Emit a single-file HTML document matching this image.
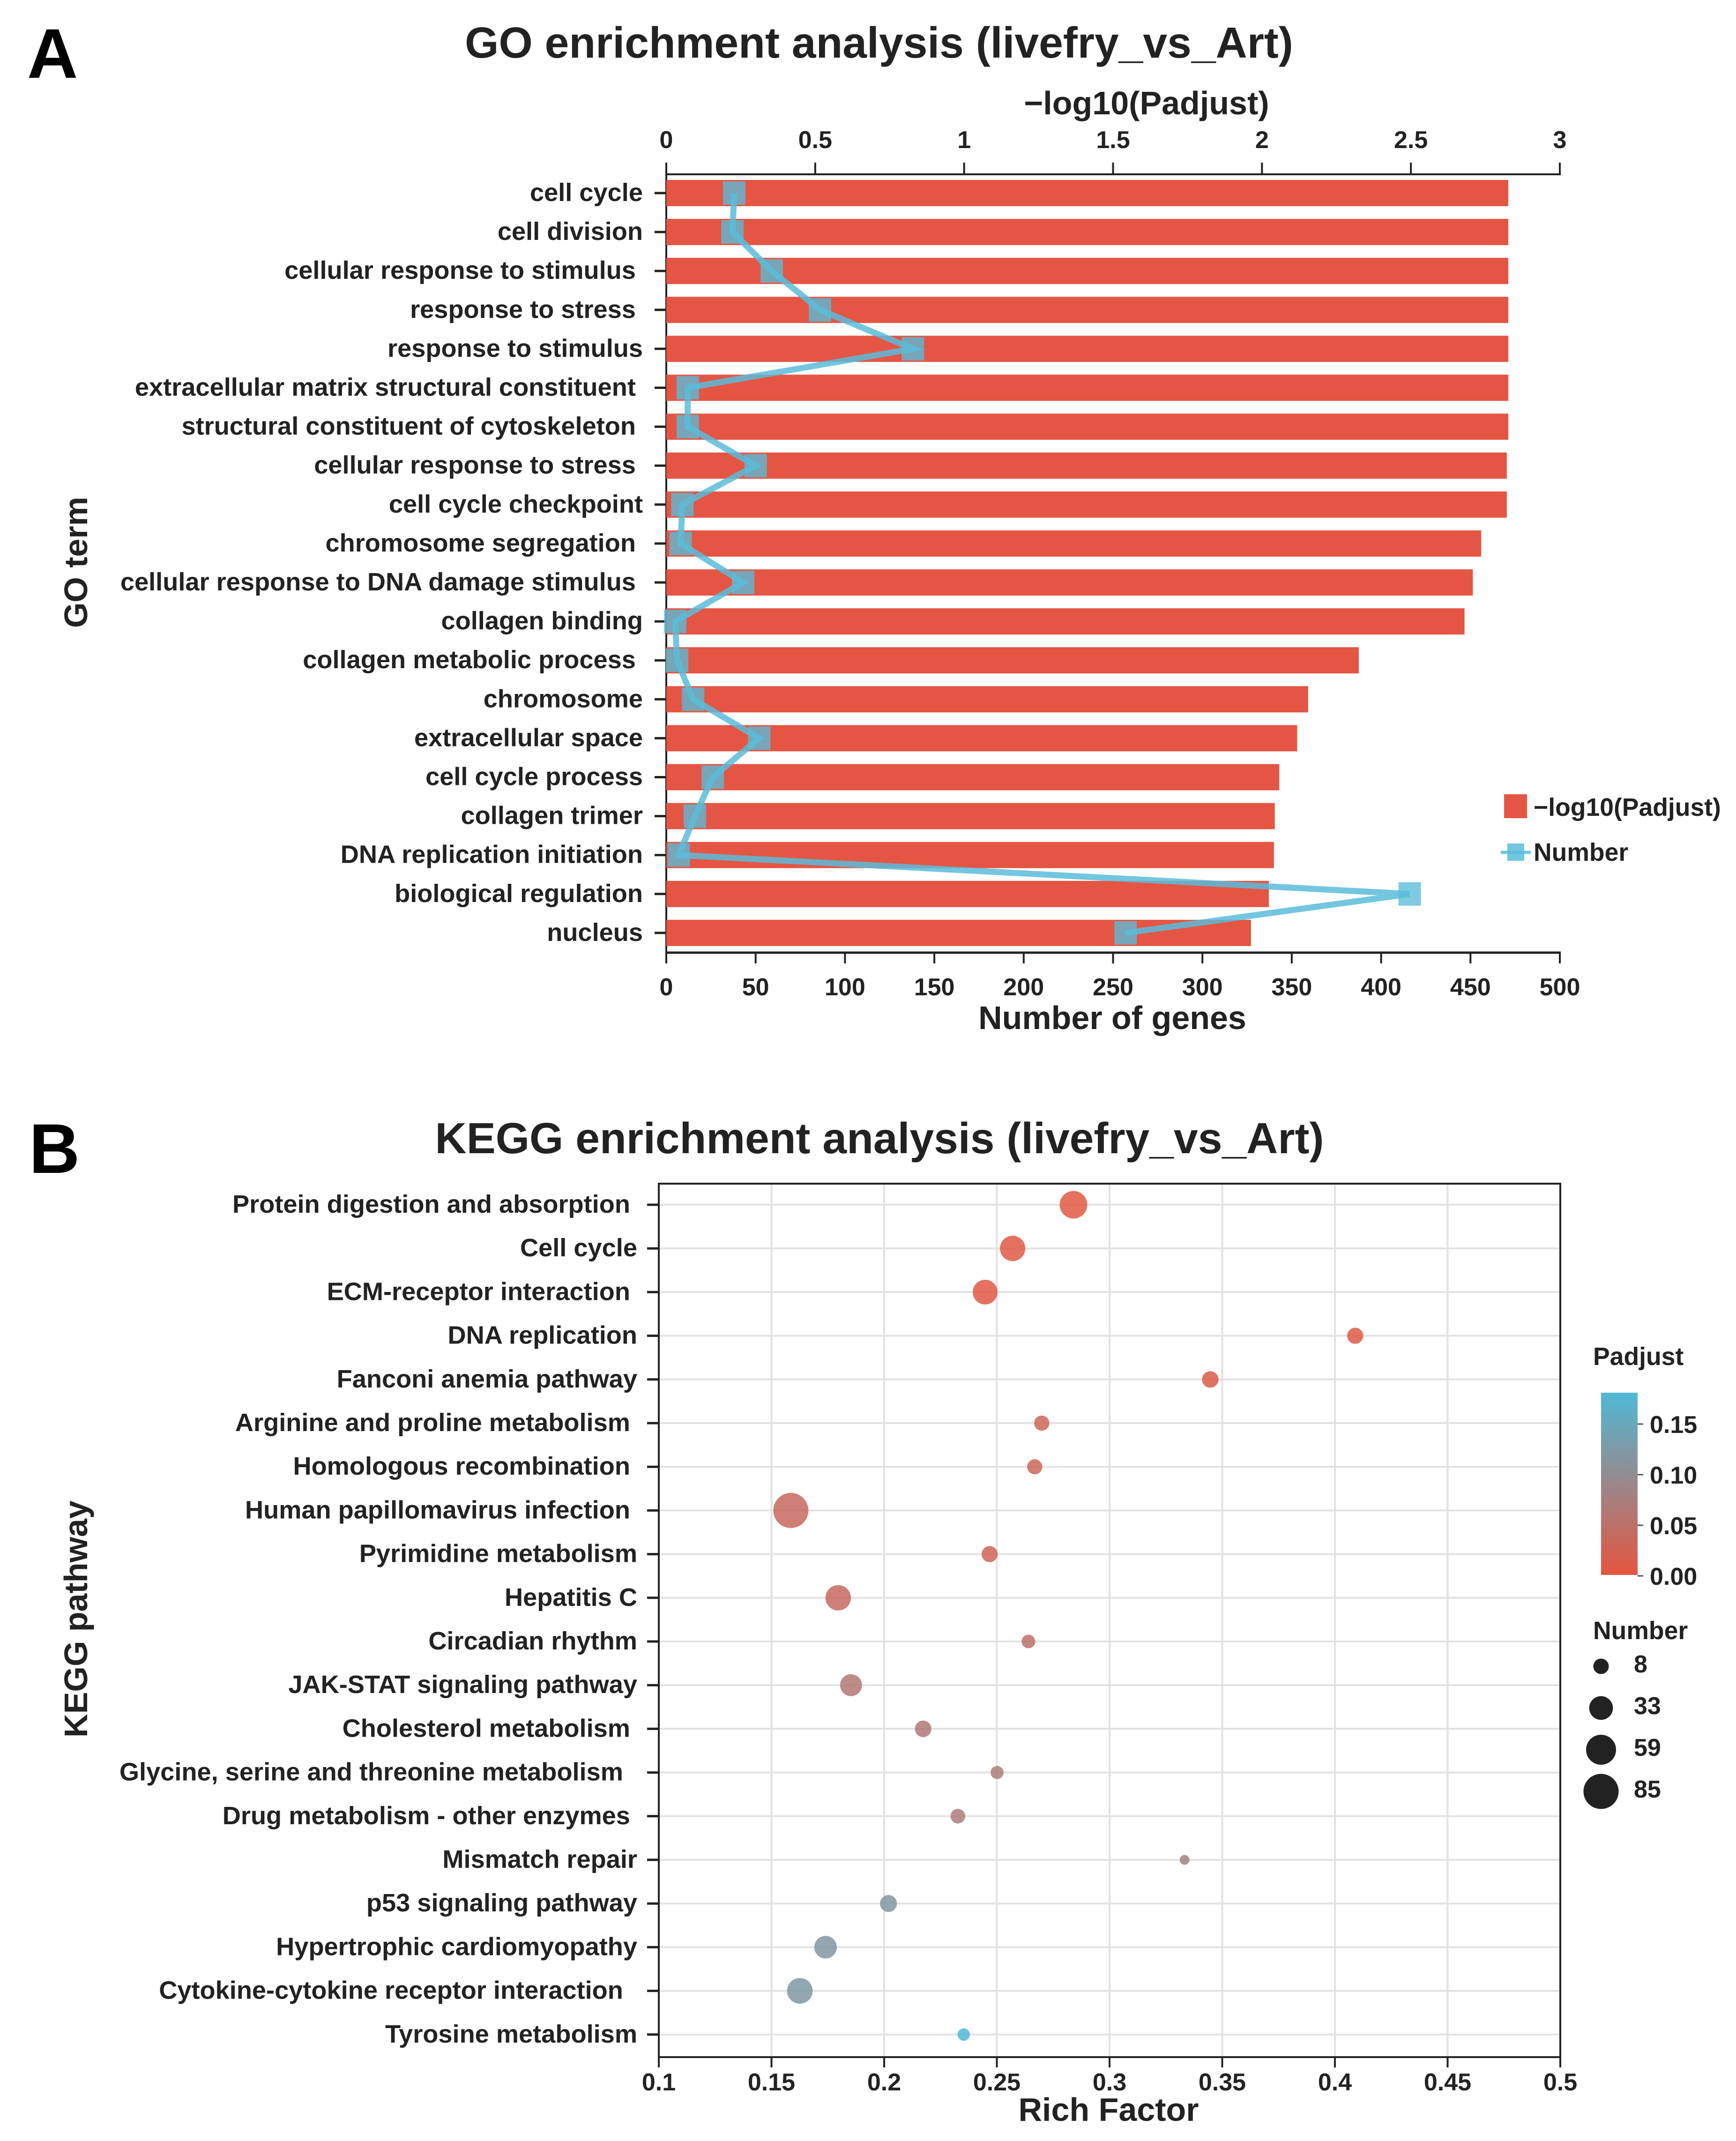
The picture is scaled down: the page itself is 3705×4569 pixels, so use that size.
<!DOCTYPE html>
<html lang="en">
<head>
<meta charset="utf-8">
<title>GO and KEGG enrichment analysis (livefry_vs_Art)</title>
<style>
html,body{margin:0;padding:0;background:#fff;}
svg{display:block;}
text{font-family:"Liberation Sans",sans-serif;font-weight:700;fill:#222;}
.tick{font-size:52px;}
.cat{font-size:54.2px;}
.axis-title{font-size:70px;}
.main-title{font-size:93px;}
.panel{font-size:150px;fill:#000;}
.legend{font-size:53.5px;}
</style>
</head>
<body>
<svg id="figure" xmlns="http://www.w3.org/2000/svg" width="3705" height="4569" viewBox="0 0 3705 4569">
  <defs>
    <linearGradient id="padjust-gradient" x1="0" y1="1" x2="0" y2="0">
      <stop offset="0" stop-color="#e5553f"/>
      <stop offset="1" stop-color="#4fb9d6"/>
    </linearGradient>
  </defs>
  <rect x="0" y="0" width="3705" height="4569" fill="#fff"/>

  <text class="panel" x="58" y="166">A</text>
  <text class="main-title" x="1876" y="123" text-anchor="middle">GO enrichment analysis (livefry_vs_Art)</text>
  <text class="axis-title" x="2447" y="244" text-anchor="middle">−log10(Padjust)</text>
  <text class="axis-title" x="2374" y="2196" text-anchor="middle">Number of genes</text>
  <text class="axis-title" transform="translate(186 1200) rotate(-90)" text-anchor="middle">GO term</text>

  <g id="go-grid-back"></g>
  <g id="go-bars"></g>
  <g id="go-number"></g>

  <rect x="3210" y="1695" width="49" height="51" fill="#e55543"/>
  <text class="legend" x="3273" y="1741">−log10(Padjust)</text>
  <line x1="3203" y1="1819" x2="3267" y2="1819" stroke="#5abcd9" stroke-width="7" stroke-opacity="0.85"/>
  <rect x="3217" y="1800" width="36" height="37" fill="#5abcd9" opacity="0.85"/>
  <text class="legend" x="3273" y="1837">Number</text>

  <text class="panel" x="62" y="2503">B</text>
  <text class="main-title" x="1877" y="2461" text-anchor="middle">KEGG enrichment analysis (livefry_vs_Art)</text>
  <text class="axis-title" x="2366" y="4526" text-anchor="middle">Rich Factor</text>
  <text class="axis-title" transform="translate(186 3455) rotate(-90)" text-anchor="middle">KEGG pathway</text>

  <g id="kegg-grid"></g>
  <g id="kegg-dots"></g>
  <g id="kegg-axes"></g>

  <text class="legend" x="3400" y="2913">Padjust</text>
  <rect x="3417" y="2972" width="78" height="389" fill="url(#padjust-gradient)"/>
  <g id="color-legend"></g>
  <text class="legend" x="3400" y="3498">Number</text>
  <g id="size-legend"></g>
</svg>

<script>
/* ---------- GO chart data ---------- */
const goCategories = [
  "cell cycle", "cell division", "cellular response to stimulus\u00a0", "response to stress\u00a0",
  "response to stimulus", "extracellular matrix structural constituent\u00a0", "structural constituent of cytoskeleton\u00a0",
  "cellular response to stress\u00a0", "cell cycle checkpoint", "chromosome segregation\u00a0",
  "cellular response to DNA damage stimulus\u00a0", "collagen binding", "collagen metabolic process\u00a0",
  "chromosome", "extracellular space", "cell cycle process", "collagen trimer",
  "DNA replication initiation", "biological regulation", "nucleus"
];
const goLogPadjust = [2.827, 2.827, 2.827, 2.827, 2.827, 2.827, 2.827, 2.822, 2.822, 2.736,
                      2.708, 2.68, 2.325, 2.155, 2.118, 2.058, 2.043, 2.04, 2.023, 1.963];
const goNumberOfGenes = [38, 37, 59, 86, 138, 12, 12, 50, 9, 8, 43, 5, 6, 15, 52, 26, 16, 7, 416, 257];
const goTopTicks = ["0", "0.5", "1", "1.5", "2", "2.5", "3"];
const goBottomTicks = ["0", "50", "100", "150", "200", "250", "300", "350", "400", "450", "500"];

/* ---------- KEGG chart data ---------- */
const keggCategories = [
  "Protein digestion and absorption\u00a0", "Cell cycle", "ECM-receptor interaction\u00a0", "DNA replication",
  "Fanconi anemia pathway", "Arginine and proline metabolism\u00a0", "Homologous recombination\u00a0",
  "Human papillomavirus infection\u00a0", "Pyrimidine metabolism", "Hepatitis C", "Circadian rhythm",
  "JAK-STAT signaling pathway", "Cholesterol metabolism\u00a0", "Glycine, serine and threonine metabolism\u00a0\u00a0",
  "Drug metabolism - other enzymes\u00a0", "Mismatch repair", "p53 signaling pathway",
  "Hypertrophic cardiomyopathy", "Cytokine-cytokine receptor interaction\u00a0\u00a0", "Tyrosine metabolism"
];
const keggRichFactor = [0.284, 0.257, 0.2448, 0.409, 0.3447, 0.2699, 0.2668, 0.1586, 0.2468, 0.1796,
                        0.264, 0.1853, 0.2173, 0.2501, 0.2327, 0.3333, 0.2019, 0.174, 0.1626, 0.2353];
const keggNumber = [53, 45, 43, 19, 20, 17, 17, 85, 19, 45, 14, 34, 20, 13, 16, 8, 21, 36, 46, 12];
const keggPadjust = [0.005, 0.006, 0.006, 0.008, 0.012, 0.03, 0.03, 0.036, 0.028, 0.037,
                     0.05, 0.063, 0.065, 0.07, 0.07, 0.08, 0.118, 0.12, 0.122, 0.18];
const keggXTicks = ["0.1", "0.15", "0.2", "0.25", "0.3", "0.35", "0.4", "0.45", "0.5"];
const padjustLegendTicks = ["0.00", "0.05", "0.10", "0.15"];
const numberLegendValues = [8, 33, 59, 85];

/* ---------- helpers & scales ---------- */
const NS = "http://www.w3.org/2000/svg";
function make(tag, parentId, attrs) {
  const el = document.createElementNS(NS, tag);
  for (const k in attrs) el.setAttribute(k, attrs[k]);
  document.getElementById(parentId).appendChild(el);
  return el;
}
const goXBottom = v => 1422 + v * (1907 / 500);
const goXTop = v => 1422 + v * (1907 / 3);
const goY = i => 412 + i * 83.1;
const keggX = v => 1406 + (v - 0.1) * (1924 / 0.4);
const keggY = i => 2571 + i * 93.2;
const keggRadius = n => Math.sqrt(Math.max(67.3 * n - 97, 100)) / 2;
const legendRadius = n => Math.sqrt(617 + 59 * n) / 2;
const colorY = v => 3363 - v * 2160;
function padjustColor(p) {
  const t = Math.min(1, p / 0.181);
  const r = Math.round(229 + (79 - 229) * t);
  const g = Math.round(85 + (185 - 85) * t);
  const b = Math.round(63 + (214 - 63) * t);
  return "rgb(" + r + "," + g + "," + b + ")";
}
const DARK = "#222";

/* ---------- GO chart ---------- */
goCategories.forEach((name, i) => {
  const bar = make("rect", "go-bars", {x: goXTop(0), y: goY(i) - 28, width: goXTop(goLogPadjust[i]) - goXTop(0), height: 56, fill: "#e55543"});
  
  
  const tick = make("line", "go-grid-back", {x1: 1397, x2: 1422, y1: goY(i), y2: goY(i), stroke: DARK, "stroke-width": 5});
  
  
  const label = make("text", "go-grid-back", {class: "cat", x: 1372, y: goY(i) + 17, "text-anchor": "end"});
  label.textContent = name;
  
  
});
const goPoints = goNumberOfGenes.map((n, i) => goXBottom(n) + "," + goY(i)).join(" ");
const goLine = make("polyline", "go-number", {points: goPoints, fill: "none", stroke: "#5abcd9", "stroke-width": 13, "stroke-opacity": 0.85, "stroke-linejoin": "miter"});


goNumberOfGenes.forEach((n, i) => {
  const m = make("rect", "go-number", {x: goXBottom(n) - 24, y: goY(i) - 25, width: 48, height: 50, fill: "#5abcd9", "fill-opacity": 0.78});
  
  
});
const goLeftAxis = make("line", "go-grid-back", {x1: 1422, x2: 1422, y1: 347, y2: 2055, stroke: DARK, "stroke-width": 4});


const goTopAxis = make("line", "go-grid-back", {x1: 1420, x2: 3331, y1: 372, y2: 372, stroke: DARK, "stroke-width": 4});


const goBottomAxis = make("line", "go-grid-back", {x1: 1420, x2: 3331, y1: 2033, y2: 2033, stroke: DARK, "stroke-width": 5});


goTopTicks.forEach(t => {
  const x = goXTop(Number(t));
  const tick = make("line", "go-grid-back", {x1: x, x2: x, y1: 347, y2: 372, stroke: DARK, "stroke-width": 4});
  
  
  const label = make("text", "go-grid-back", {class: "tick", x: x, y: 316, "text-anchor": "middle"});
  label.textContent = t;
  
  
});
goBottomTicks.forEach(t => {
  const x = goXBottom(Number(t));
  const tick = make("line", "go-grid-back", {x1: x, x2: x, y1: 2033, y2: 2056, stroke: DARK, "stroke-width": 4});
  
  
  const label = make("text", "go-grid-back", {class: "tick", x: x, y: 2124, "text-anchor": "middle"});
  label.textContent = t;
  
  
});

/* ---------- KEGG chart ---------- */
keggCategories.forEach((name, i) => {
  const grid = make("line", "kegg-grid", {x1: 1406, x2: 3330, y1: keggY(i), y2: keggY(i), stroke: "#e2e2e2", "stroke-width": 4});
  
  
  const tick = make("line", "kegg-axes", {x1: 1381, x2: 1406, y1: keggY(i), y2: keggY(i), stroke: DARK, "stroke-width": 5});
  
  
  const label = make("text", "kegg-axes", {class: "cat", x: 1360, y: keggY(i) + 17, "text-anchor": "end"});
  label.textContent = name;
  
  
  const dot = make("circle", "kegg-dots", {cx: keggX(keggRichFactor[i]), cy: keggY(i), r: keggRadius(keggNumber[i]), fill: padjustColor(keggPadjust[i]), "fill-opacity": 0.85});
  
  
});
keggXTicks.forEach(t => {
  const x = keggX(Number(t));
  const grid = make("line", "kegg-grid", {x1: x, x2: x, y1: 2526, y2: 4390, stroke: "#e2e2e2", "stroke-width": 4});
  
  
  const tick = make("line", "kegg-axes", {x1: x, x2: x, y1: 4390, y2: 4412, stroke: DARK, "stroke-width": 4});
  
  
  const label = make("text", "kegg-axes", {class: "tick", x: x, y: 4461, "text-anchor": "middle"});
  label.textContent = t;
  
  
});
const keggFrame = make("rect", "kegg-axes", {x: 1406, y: 2526, width: 1924, height: 1864, fill: "none", stroke: DARK, "stroke-width": 4});



/* ---------- KEGG legends ---------- */
padjustLegendTicks.forEach(t => {
  const y = colorY(Number(t));
  const tick = make("line", "color-legend", {x1: 3495, x2: 3507, y1: y, y2: y, stroke: "#555", "stroke-width": 3});
  
  
  const label = make("text", "color-legend", {class: "tick", x: 3521, y: y + 19});
  label.textContent = t;
  
  
});
numberLegendValues.forEach((n, i) => {
  const dot = make("circle", "size-legend", {cx: 3417, cy: 3556 + i * 89, r: legendRadius(n), fill: DARK});
  
  
  const label = make("text", "size-legend", {class: "tick", x: 3487, y: 3569 + i * 89});
  label.textContent = String(n);
  
  
});
</script>
</body>
</html>
